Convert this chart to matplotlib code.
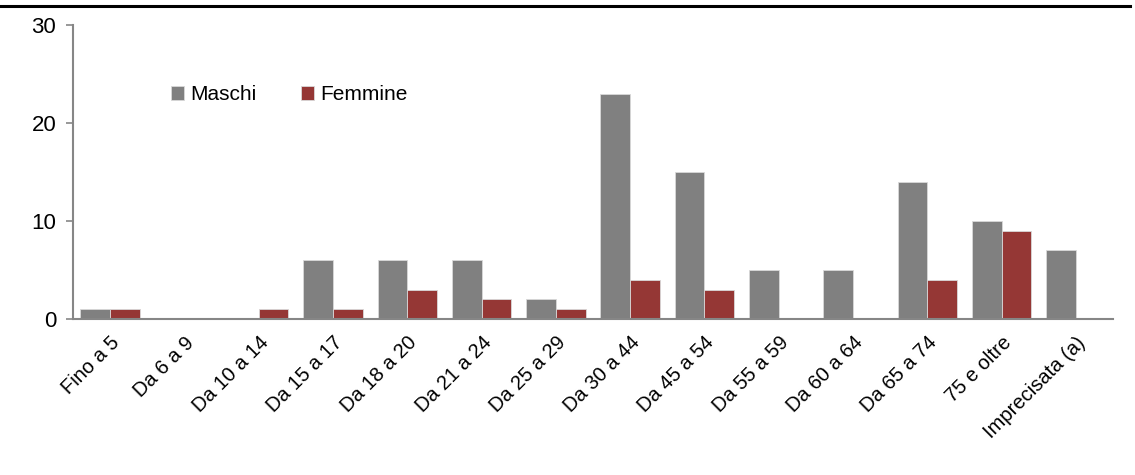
import matplotlib
matplotlib.use("Agg")
import matplotlib.pyplot as plt
from matplotlib.lines import Line2D
import numpy as np

categories = ["Fino a 5", "Da 6 a 9", "Da 10 a 14", "Da 15 a 17", "Da 18 a 20",
              "Da 21 a 24", "Da 25 a 29", "Da 30 a 44", "Da 45 a 54", "Da 55 a 59",
              "Da 60 a 64", "Da 65 a 74", "75 e oltre", "Imprecisata (a)"]
maschi = [1, 0, 0, 6, 6, 6, 2, 23, 15, 5, 5, 14, 10, 7]
femmine = [1, 0, 1, 1, 3, 2, 1, 4, 3, 0, 0, 4, 9, 0]
y_ticks = [0, 10, 20, 30]

plt.rcParams["font.family"] = ["Liberation Sans", "DejaVu Sans"]

fig = plt.figure(figsize=(11.35, 4.75), dpi=100)
ax = fig.add_axes([0.0643, 0.3284, 0.9163, 0.619])

x = np.arange(len(categories))
w = 0.4
ax.bar(x - w / 2, maschi, w, color="#808080", edgecolor="#d9d9d9", linewidth=0.6, label="Maschi")
ax.bar(x + w / 2, femmine, w, color="#953735", edgecolor="#d9d9d9", linewidth=0.6, label="Femmine")

ax.set_xlim(-0.5, len(categories) - 0.5)
ax.set_ylim(0, 30)
ax.set_yticks(y_ticks)
ax.tick_params(axis="y", length=5, width=1.2, color="#868686", labelsize=16, pad=7)
ax.set_xticks(x)
ax.set_xticklabels(categories, rotation=45, ha="right", rotation_mode="anchor", fontsize=14.5)
ax.tick_params(axis="x", length=0, pad=10)
for s in ["top", "right"]:
    ax.spines[s].set_visible(False)
for s in ["left", "bottom"]:
    ax.spines[s].set_color("#868686")
    ax.spines[s].set_linewidth(1.5)

ax.legend(loc="upper left", bbox_to_anchor=(0.076, 0.86), ncol=2, frameon=False,
          fontsize=15, handlelength=0.65, handleheight=0.65, handletextpad=0.3,
          columnspacing=2.1)

fig.add_artist(Line2D([0, 0.996], [0.988, 0.988], color="black", linewidth=2.2,
                      transform=fig.transFigure))

fig.savefig("out.png", dpi=100)
